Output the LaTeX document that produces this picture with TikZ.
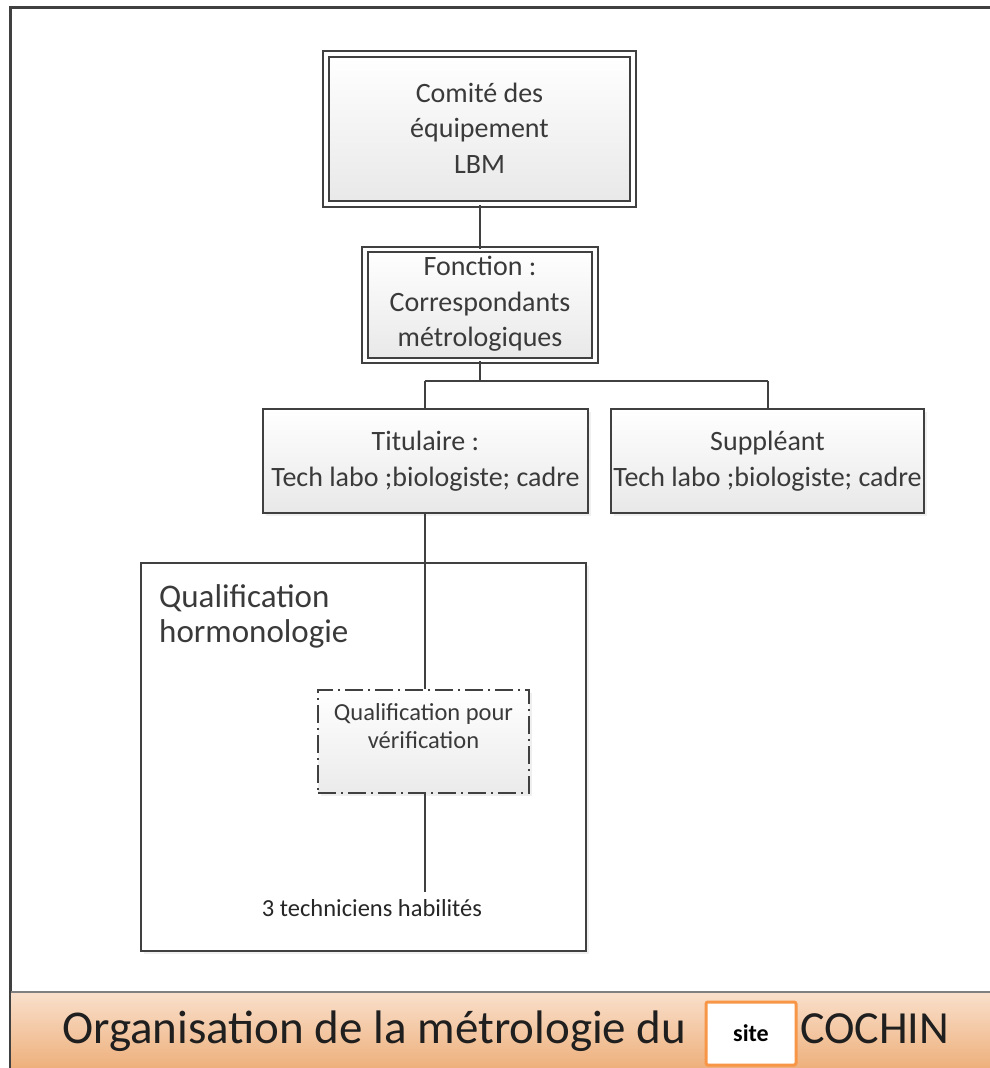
\documentclass[tikz,border=0pt]{standalone}
\usepackage{fontspec}
\setmainfont{Carlito}
\usetikzlibrary{shadows,calc}
\definecolor{linecol}{HTML}{404040}
\definecolor{txtcol}{HTML}{3A3A3A}
\definecolor{bandtop}{HTML}{F9E0CC}
\definecolor{bandbot}{HTML}{EEB07C}
\definecolor{orangebd}{HTML}{F79646}
\tikzset{
  box/.style={draw=linecol, line width=1.8pt, rectangle, inner sep=0pt,
    top color=white, bottom color=black!9, text=txtcol, align=center,
    drop shadow={opacity=0.12, shadow xshift=3pt, shadow yshift=-3pt}},
  dbox/.style={box, double=white, double distance=3.6pt},
  plainbox/.style={draw=linecol, line width=1.8pt, rectangle, inner sep=0pt, fill=white,
    drop shadow={opacity=0.12, shadow xshift=3pt, shadow yshift=-3pt}},
  dashbox/.style={draw=linecol, line width=1.6pt, rectangle, inner sep=0pt,
    top color=white, bottom color=black!8,
    dash pattern=on 18pt off 5pt on 2pt off 5pt,
    drop shadow={opacity=0.12, shadow xshift=3pt, shadow yshift=-3pt}},
  conn/.style={draw=linecol, line width=2pt},
  bigtxt/.style={font=\fontsize{28}{35.5}\selectfont, text=txtcol, align=center},
  smalltxt/.style={font=\fontsize{24.5}{28}\selectfont, text=txtcol, align=center, inner sep=0pt},
}
\begin{document}
\begin{tikzpicture}[x=1pt,y=-1pt]
\useasboundingbox (0,0) rectangle (990,1068);
% frame
\draw[line width=3pt, linecol] (10,1068) -- (10,7) -- (990,7);
% band
\shade[top color=bandtop, bottom color=bandbot] (11,992) rectangle (990,1068);
\draw[line width=2pt, black!50] (11,992) -- (990,992);
% boxes
\node[dbox, minimum width=307pt, minimum height=150pt] (comite) at (479.5,129) {};
\node[bigtxt, anchor=base, inner sep=0pt] (comtxt) at (479.5,173)
  {Comité des\\équipement\\LBM};
\node[dbox, minimum width=230pt, minimum height=111pt] (fonction) at (480,305) {};
\node[bigtxt, anchor=base, inner sep=0pt] (fonctxt) at (480,346.5)
  {Fonction :\\Correspondants\\métrologiques};
\node[box, minimum width=325pt, minimum height=104pt, bigtxt] (titulaire) at (425.5,461)
  {Titulaire :\\Tech labo ;biologiste; cadre};
\node[box, minimum width=313pt, minimum height=104pt, bigtxt] (suppleant) at (767.5,461)
  {Suppléant\\Tech labo ;biologiste; cadre};
\node[plainbox, minimum width=445pt, minimum height=388pt] (qualbox) at (363.5,757) {};
\node[anchor=base west, font=\fontsize{33}{35}\selectfont, text=txtcol, align=left, inner sep=0pt]
  (qualtxt) at (159,642) {Qualification\\hormonologie};
\node[dashbox, minimum width=211pt, minimum height=103pt] (dashb) at (423.5,741.5) {};
\node[smalltxt, anchor=base] (dashtxt) at (423.5,748) {Qualification pour\\vérification};
\node[smalltxt, anchor=base, text=black!85] (tech) at (372,916) {3 techniciens habilités};
% connectors
\coordinate (j) at (480,381);
\coordinate (tx) at (425,381);
\coordinate (sx) at (768,381);
\coordinate (techend) at (425,892);
\draw[conn] (fonction.north) -- (fonction.north |- comite.south);
\draw[conn] (fonction.south) -- (j);
\draw[conn] (tx) -- (sx);
\draw[conn] (tx) -- (tx |- titulaire.north);
\draw[conn] (sx) -- (sx |- suppleant.north);
\draw[conn] (titulaire.south -| tx) -- (dashb.north -| tx);
\draw[conn] (dashb.south -| tx) -- (techend);
% title
\node[anchor=base west, font=\fontsize{47}{50}\selectfont, text=black!88, inner sep=0pt]
  (title) at (62,1043) {Organisation de la métrologie du};
\node[draw=orangebd, line width=3pt, fill=white, rounded corners=2pt,
  minimum width=90pt, minimum height=63pt, inner sep=0pt,
  font=\bfseries\fontsize{24}{28}\selectfont, text=black] (site) at (751,1033.5) {site};
\node[anchor=base west, font=\fontsize{46}{50}\selectfont, text=black!88, inner sep=0pt]
  (cochin) at (800,1043) {COCHIN};
\end{tikzpicture}
\end{document}
